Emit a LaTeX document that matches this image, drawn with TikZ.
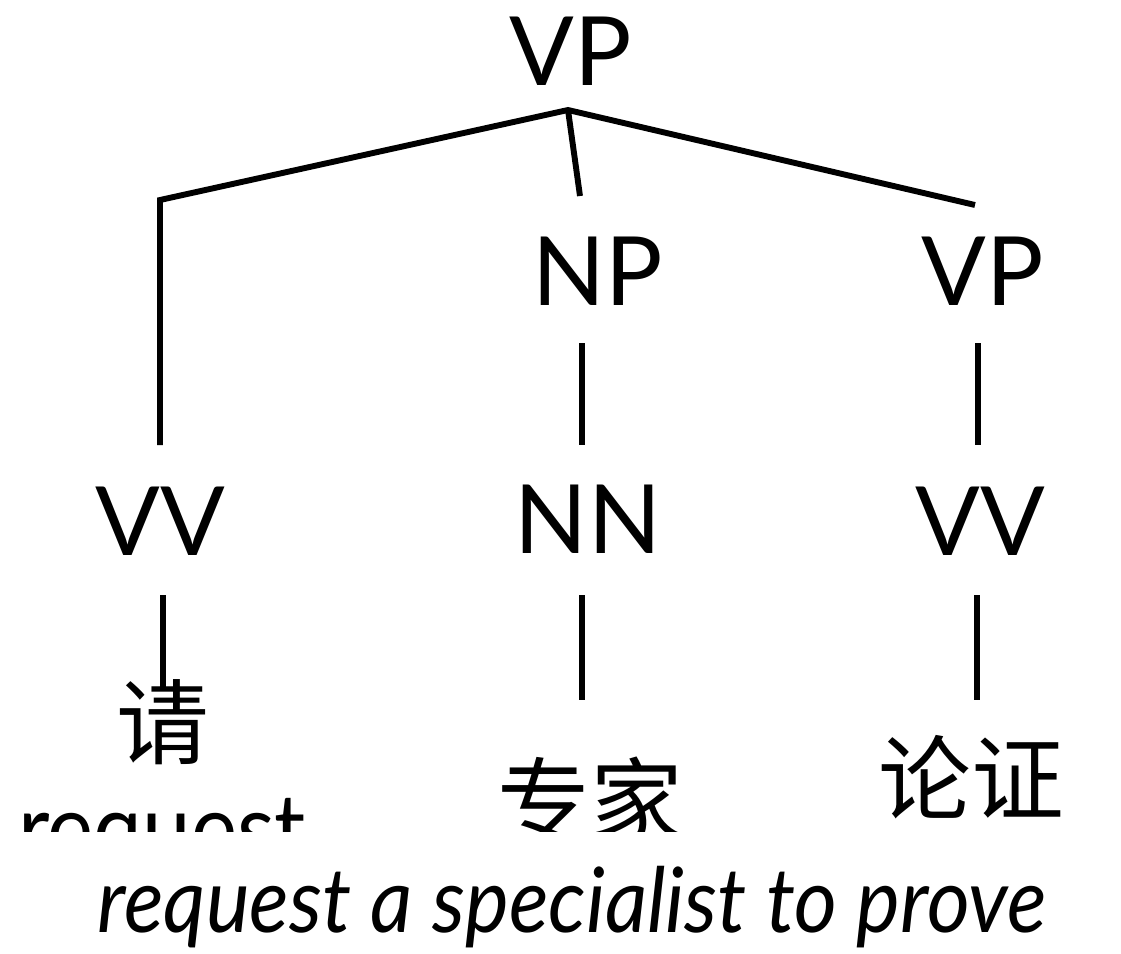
\documentclass[tikz,border=0pt]{standalone}
\usepackage{fontspec}
\setmainfont{Lato}
\newfontfamily\cjk{Noto Sans CJK SC}
\newfontfamily\glossfont[FakeStretch=0.917]{Lato Italic}
\newfontfamily\narrowfont[FakeStretch=0.91]{Lato}
\usetikzlibrary{positioning}
\tikzset{cat/.style={inner sep=0pt,anchor=base,font=\fontsize{68}{80}\selectfont},
word/.style={inner sep=0pt,font=\cjk\fontsize{66}{78}\selectfont},
branch/.style={line width=4.2pt,black}}
\begin{document}
\begin{tikzpicture}[x=0.025cm,y=-0.025cm]
\useasboundingbox(0,0)rectangle(1121,954);
\node[cat](vp)at(571,85){VP};
\node[cat](np)at(598,305){NP};
\node[cat](vp2)at(983,305){VP};
\node[cat](vv)at(160,555){VV};
\node[cat](nn)at(588,553){NN};
\node[cat](vv2)at(980,555){VV};
\node[word](qing)at(163,722){请};
\node[cat,font=\narrowfont\fontsize{68}{80}\selectfont](req)at(162,862){request};
\node[word](zj)at(590,800){专家};
\node[word](lz)at(971,777){论证};
\coordinate(root)at(568,110);
\coordinate(lc)at(160,200);
\coordinate(lv)at(160,445);
\coordinate(mc)at(580,196);
\coordinate(rc)at(975,205);
\draw[branch](rc)--(root)--(lc)--(lv)(root)--(mc);
\draw[branch](582,343)--(582,445)(978,343)--(978,445);
\draw[branch](163,595)--(qing.center|-0,690)(582,595)--(582,700)(977,595)--(977,700);
\node[cat,fill=white,minimum width=1300*0.025cm,text height=2.5cm,text depth=0.7cm,font=\glossfont\fontsize{64}{76}\selectfont](gloss)at(572,932){request a specialist to prove};
\end{tikzpicture}
\end{document}
